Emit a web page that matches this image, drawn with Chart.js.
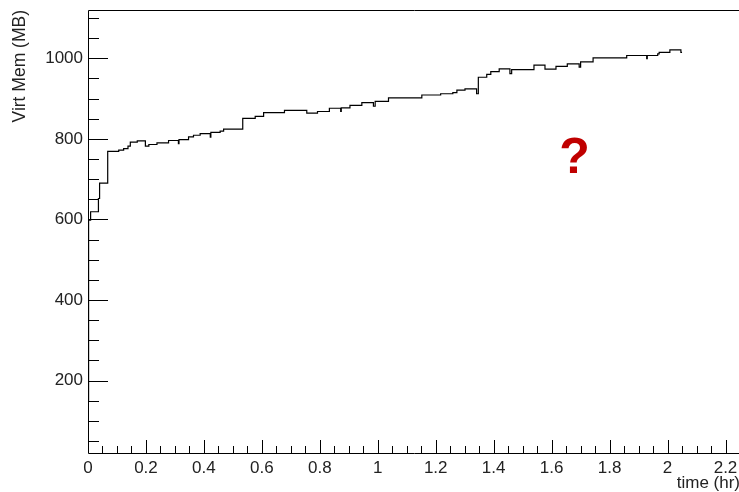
<!DOCTYPE html>
<html>
<head>
<meta charset="utf-8">
<title>Virt Mem</title>
<script src="https://cdn.jsdelivr.net/npm/chart.js@4.4.1/dist/chart.umd.min.js"></script>
<style>
  html, body { margin: 0; padding: 0; background: #fff; overflow: hidden; }
  #wrap { width: 745px; height: 492px; }
</style>
</head>
<body>
<div id="wrap"><canvas id="mem-chart" width="745" height="492"></canvas></div>
<script>
// step curve: virtual memory (MB) vs time (hr), value holds from each time until the next
const times = [0, 0.002, 0.009, 0.036, 0.040, 0.068, 0.106, 0.123, 0.138, 0.146, 0.170, 0.198, 0.210,
  0.238, 0.278, 0.312, 0.314, 0.347, 0.364, 0.387, 0.422, 0.424, 0.456, 0.468, 0.534, 0.577, 0.606,
  0.678, 0.755, 0.792, 0.833, 0.872, 0.874, 0.904, 0.945, 0.985, 0.991, 1.037, 1.152, 1.217, 1.259,
  1.273, 1.301, 1.341, 1.347, 1.376, 1.390, 1.419, 1.456, 1.462, 1.539, 1.577, 1.615, 1.654, 1.695,
  1.700, 1.743, 1.859, 1.928, 1.930, 1.966, 1.971, 2.008, 2.046, 2.050];
const virtMem = [150, 598, 619, 652, 690, 769, 772, 776, 782, 792, 795, 782, 786,
  790, 796, 788, 798, 805, 809, 813, 804, 816, 819, 824, 851, 856, 865,
  871, 864, 868, 876, 868, 877, 883, 890, 881, 893, 902, 909, 912, 915,
  921, 924, 912, 953, 960, 967, 974, 962, 972, 983, 973, 980, 986, 978,
  991, 1001, 1007, 999, 1007, 1011, 1015, 1021, 1015, 1015];

const xTickValues = [0, 0.2, 0.4, 0.6, 0.8, 1, 1.2, 1.4, 1.6, 1.8, 2, 2.2];
const xTickLabels = ['0', '0.2', '0.4', '0.6', '0.8', '1', '1.2', '1.4', '1.6', '1.8', '2', '2.2'];
const yTickValues = [200, 400, 600, 800, 1000];
const yTickLabels = ['200', '400', '600', '800', '1000'];

const FONT = '"Liberation Sans", Arial, Helvetica, sans-serif';

// ROOT style frame with inward ticks, plus the red question mark
const rootFrame = {
  id: 'rootFrame',
  afterDraw(chart) {
    const {ctx, chartArea: a, scales: {x, y}} = chart;
    ctx.save();
    ctx.strokeStyle = '#000';
    ctx.lineWidth = 1;
    ctx.beginPath();
    ctx.rect(a.left + 0.5, a.top + 0.5, a.right - a.left, a.bottom - a.top);
    ctx.stroke();

    ctx.beginPath();
    for (let v = 0.05; v <= x.max + 1e-9; v += 0.05) {
      const px = Math.round(x.getPixelForValue(v)) + 0.5;
      const major = xTickValues.some(t => Math.abs(t - v) < 1e-6);
      ctx.moveTo(px, a.bottom);
      ctx.lineTo(px, a.bottom - (major ? 13 : 7));
    }
    for (let v = 50; v <= y.max; v += 50) {
      const py = Math.round(y.getPixelForValue(v)) + 0.5;
      const major = yTickValues.includes(v);
      ctx.moveTo(a.left, py);
      ctx.lineTo(a.left + (major ? 20 : 11), py);
    }
    ctx.stroke();

    ctx.fillStyle = '#c00000';
    ctx.font = 'bold 50px ' + FONT;
    ctx.textAlign = 'center';
    ctx.textBaseline = 'alphabetic';
    ctx.fillText('?', 574.5, 172.5);
    ctx.restore();
  }
};

function initChart() {
  const ctx = document.getElementById('mem-chart').getContext('2d');
  new Chart(ctx, {
    type: 'line',
    data: {
      datasets: [{
        label: 'Virt Mem',
        data: times.map((t, i) => ({x: t, y: virtMem[i]})),
        borderColor: '#000',
        borderWidth: 1.2,
        pointRadius: 0,
        stepped: 'before',
        fill: false
      }]
    },
    options: {
      responsive: false,
      animation: false,
      layout: {padding: {top: 10, right: 5, left: 0, bottom: 0}},
      scales: {
        x: {
          type: 'linear',
          min: 0,
          max: 2.25,
          afterBuildTicks: s => { s.ticks = xTickValues.map(v => ({value: v})); },
          afterFit: s => { s.height = 39; s.paddingLeft = 0; s.paddingRight = 0; },
          grid: {display: false, drawTicks: false},
          border: {display: false},
          ticks: {
            padding: 5,
            color: '#222',
            font: {family: FONT, size: 17},
            maxRotation: 0,
            autoSkip: false,
            callback: (v, i) => xTickLabels[i]
          },
          title: {
            display: true,
            text: 'time (hr)',
            align: 'end',
            color: '#222',
            font: {family: FONT, size: 17, lineHeight: 1},
            padding: 0
          }
        },
        y: {
          min: 20,
          max: 1120,
          afterBuildTicks: s => { s.ticks = yTickValues.map(v => ({value: v})); },
          afterFit: s => { s.width = 88; s.paddingTop = 0; s.paddingBottom = 0; },
          grid: {display: false, drawTicks: false},
          border: {display: false},
          ticks: {
            padding: 5,
            color: '#222',
            font: {family: FONT, size: 17},
            autoSkip: false,
            callback: (v, i) => yTickLabels[i]
          },
          title: {
            display: true,
            text: 'Virt Mem (MB)',
            align: 'end',
            color: '#222',
            font: {family: FONT, size: 17.5, lineHeight: 1},
            padding: {top: 11.5, bottom: 0}
          }
        }
      },
      plugins: {
        legend: {display: false},
        tooltip: {enabled: false}
      }
    },
    plugins: [rootFrame]
  });
}

initChart();
</script>
</body>
</html>
